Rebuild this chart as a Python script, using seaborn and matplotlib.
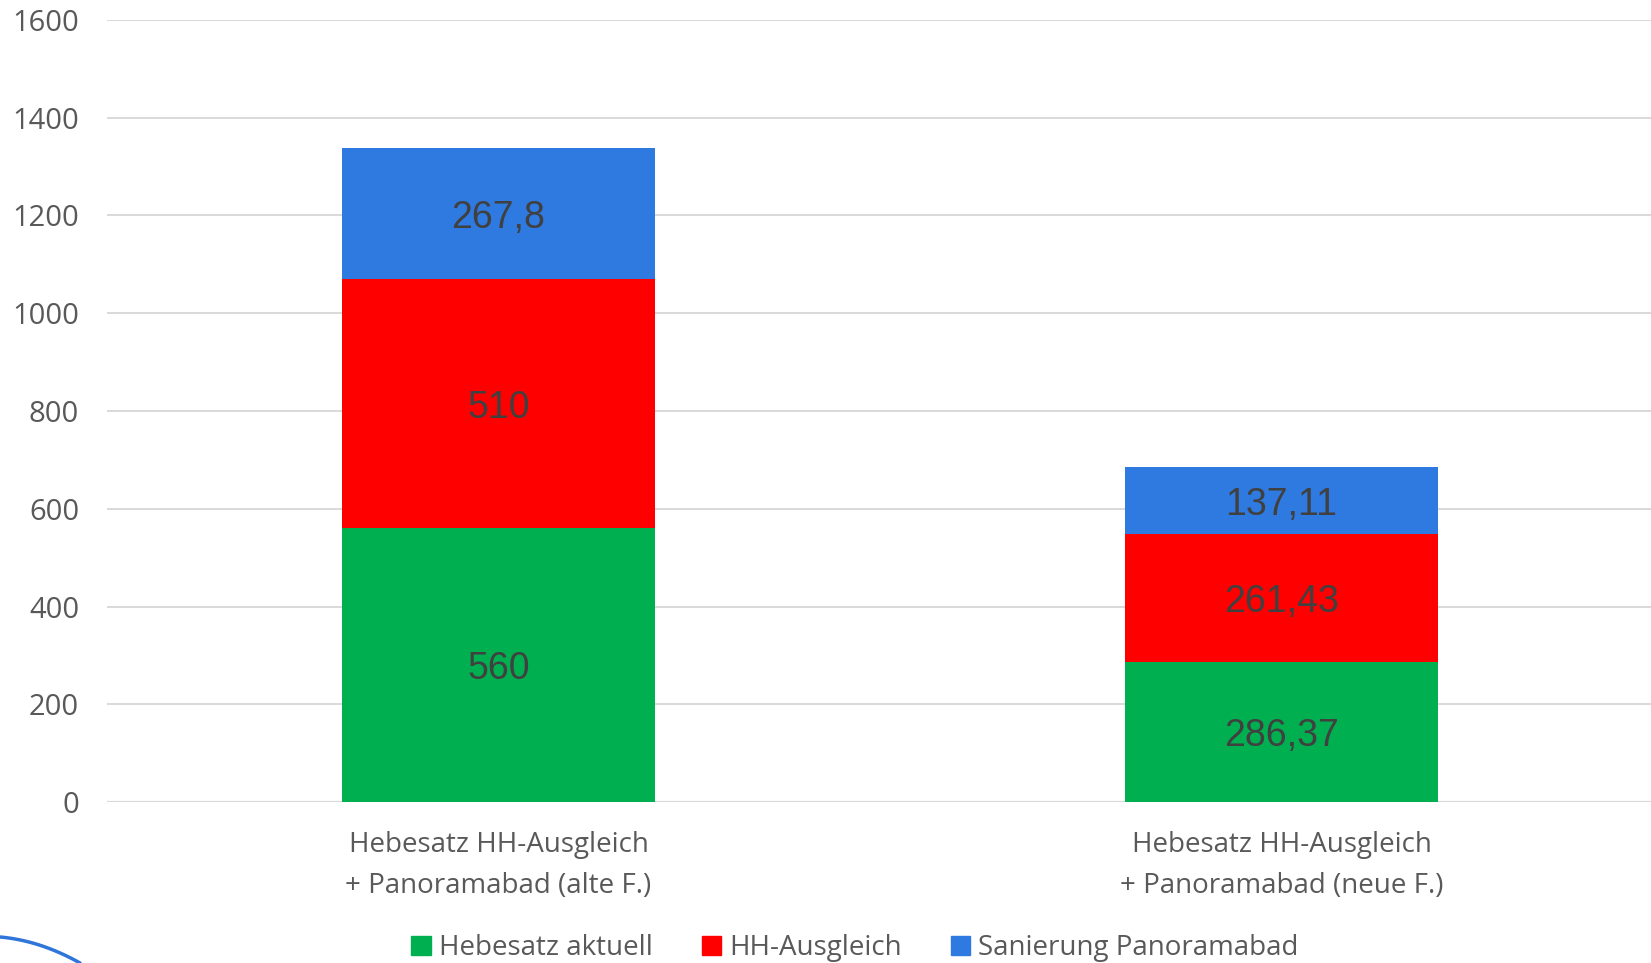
import numpy as np
import pandas as pd
import seaborn as sns
import matplotlib.pyplot as plt
from matplotlib.lines import Line2D

categories = ['Hebesatz HH-Ausgleich\n+ Panoramabad (alte F.)',
              'Hebesatz HH-Ausgleich\n+ Panoramabad (neue F.)']
series = ['Hebesatz aktuell', 'HH-Ausgleich', 'Sanierung Panoramabad']
hebesatz = [560, 286.37]
ausgleich = [510, 261.43]
sanierung = [267.8, 137.11]
labels = [['560', '286,37'], ['510', '261,43'], ['267,8', '137,11']]
colors = ['#00B050', '#FF0000', '#2F7AE0']
yticks = [0, 200, 400, 600, 800, 1000, 1200, 1400, 1600]

W, H = 1651, 963
sns.set_theme(style='white')
plt.rcParams['font.family'] = ['Open Sans', 'DejaVu Sans']

fig = plt.figure(figsize=(W / 100, H / 100), dpi=100)
ax = fig.add_axes([107 / W, 1 - 802 / H, (W - 107) / W, (802 - 20) / H])

values = np.array([hebesatz, ausgleich, sanierung])
cum = values.cumsum(axis=0)
df = pd.DataFrame({'cat': np.tile(categories, 3),
                   'series': np.repeat(series, 2),
                   'top': cum.ravel(),
                   'val': values.ravel()})

# draw cumulative totals from the top segment down so lower segments overlay
for i in reversed(range(len(series))):
    sub = df[df['series'] == series[i]]
    sns.barplot(data=sub, x='cat', y='top', color=colors[i], width=0.40,
                saturation=1, ax=ax, zorder=3, linewidth=0)

for i in range(len(series)):
    for j in range(len(categories)):
        mid = cum[i, j] - values[i, j] / 2
        ax.text(j, mid, labels[i][j], ha='center', va='center_baseline',
                fontsize=27, color='#404040', family=['Liberation Sans'],
                zorder=4)

ax.set_xlim(-0.5, -0.5 + (W - 107) / 783)
ax.set_ylim(0, 1600)
ax.set_yticks(yticks)
ax.set_yticklabels([str(t) for t in yticks])
ax.yaxis.grid(True, color='#D9D9D9', linewidth=1.4, zorder=0)
ax.set_axisbelow(True)
for s in ax.spines.values():
    s.set_visible(False)
ax.tick_params(axis='y', length=0, pad=20, labelsize=21, labelcolor='#595959')
ax.tick_params(axis='x', length=0, pad=21, labelsize=20, labelcolor='#595959')
for lab in ax.get_xticklabels():
    lab.set_linespacing(1.6)
ax.set_xlabel('')
ax.set_ylabel('')
ax.axhline(0, color='#D9D9D9', linewidth=1.6, zorder=2)

handles = [plt.Rectangle((0, 0), 1, 1, color=c) for c in colors]
fig.legend(handles, series, loc='center', bbox_to_anchor=(855 / W, 1 - 948 / H),
           ncol=3, frameon=False, fontsize=20, labelcolor='#595959',
           handlelength=0.7, handleheight=0.7, handletextpad=0.3,
           columnspacing=1.75)

# stray arc in the lower-left corner of the slide
t = np.linspace(0, 1, 30)
px = 80 * t
py = 937 + 7 * t + 19 * t ** 2
fig.add_artist(Line2D(px / W, 1 - py / H, color='#2F75DA', linewidth=2.5))

fig.savefig('out.png', dpi=100)
